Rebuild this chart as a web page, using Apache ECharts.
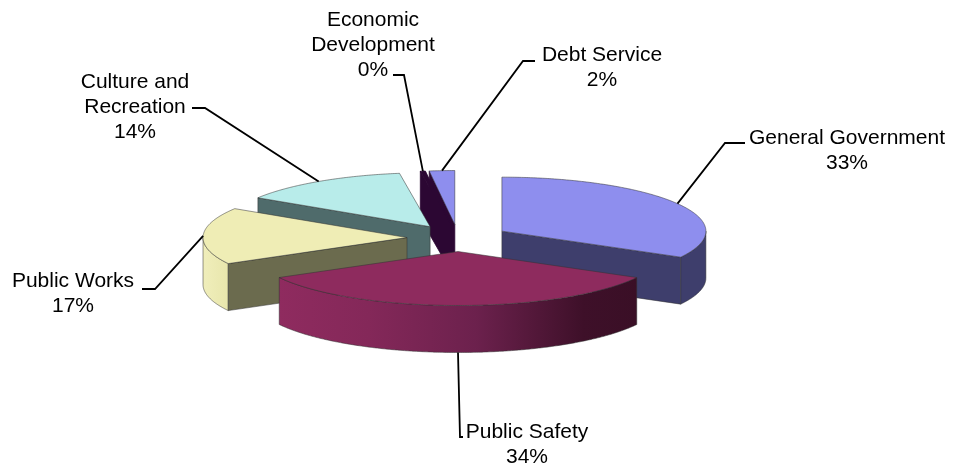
<!DOCTYPE html>
<html>
<head>
<meta charset="utf-8">
<style>html,body{margin:0;padding:0;background:#fff}#c{width:954px;height:464px}</style>
<script src="https://cdn.jsdelivr.net/npm/echarts@6/dist/echarts.min.js"></script>
</head>
<body>
<div id="c"></div>
<script>
// --- data ---
const categories = ['General Government', 'Public Safety', 'Public Works', 'Culture and\nRecreation', 'Economic\nDevelopment', 'Debt Service'];
const shares = [33, 34, 17, 13.6, 0.4, 2];

// --- styles ---
const topColors = ['#8e8eee', '#8e2b5e', '#efedb5', '#b8ecea', '#2c0733', '#8e8eee'];
const radialWallColors = ['#3e3e6c', '#3e0f28', '#6b6b4e', '#4f6b6b', '#2c0733', '#2c0733'];
const outerWallStops = [
  [[0, '#3e3e6c'], [1, '#3e3e6c']],
  [[0, '#8f2b5f'], [0.25, '#842859'], [0.55, '#6c214d'], [0.85, '#3e1029'], [1, '#3a0f26']],
  [[0, '#f0eebb'], [1, '#e8e6ac']],
  [[0, '#4f6b6b'], [1, '#4f6b6b']],
  [[0, '#2c0733'], [1, '#2c0733']],
  [[0, '#3e3e6c'], [1, '#3e3e6c']]
];

// --- layout of the pie ---
const cx0 = 458, cy0 = 238, rx = 204, ry = 54, depth = 47, explode = 51;
// label centre [x, first line y], leader elbow [x, y], and end of leader at label [x, y]
const labelPos = [[847, 136], [527, 430], [73, 279], [135, 80], [373, 18], [602, 53]];
const leaderElbow = [[725, 143], [460, 437], [155, 289], [205, 108], [404, 75], [523, 61]];
const leaderEnd = [[745, 143], [463, 437], [142, 289], [192, 108], [393, 75], [535, 61]];

const total = shares.reduce((a, b) => a + b, 0);
const toRad = d => d * Math.PI / 180;
let acc = 0;
const slices = shares.map(v => {
  const a0 = acc / total * 360;
  acc += v;
  const a1 = acc / total * 360;
  const mid = (a0 + a1) / 2;
  return {
    a0, a1, mid,
    cx: cx0 + explode * Math.sin(toRad(mid)),
    cy: cy0 - explode * (ry / rx) * Math.cos(toRad(mid))
  };
});
const order = slices.map((s, i) => [Math.cos(toRad(s.mid)), i]).sort((a, b) => b[0] - a[0]).map(d => d[1]);
const rim = (s, a, dy) => [s.cx + rx * Math.sin(toRad(a)), s.cy - ry * Math.cos(toRad(a)) + (dy || 0)];
const arc = (s, a0, a1, dy) => {
  const pts = [], n = Math.max(2, Math.ceil((a1 - a0) * 2));
  for (let k = 0; k <= n; k++) pts.push(rim(s, a0 + (a1 - a0) * k / n, dy));
  return pts;
};
const EDGE = 'rgba(50,50,50,0.65)';

function renderItem(params, api) {
  const i = params.dataIndex, s = slices[i], base = order.indexOf(i) * 10;
  const kids = [];
  const poly = (points, fill, z, stroke) => kids.push({
    type: 'polygon', shape: { points }, z2: base + z,
    style: { fill, stroke: stroke || EDGE, lineWidth: 0.8, lineJoin: 'round' }
  });
  // outer wall: only the part of the rim that faces the viewer
  const w0 = Math.max(s.a0, 90), w1 = Math.min(s.a1, 270);
  if (w1 > w0) {
    const pts = arc(s, w0, w1, 0).concat(arc(s, w0, w1, depth).reverse());
    poly(pts, new echarts.graphic.LinearGradient(0, 0, 1, 0,
      outerWallStops[i].map(d => ({ offset: d[0], color: d[1] }))), 1);
  }
  // radial walls
  const dark = radialWallColors[i] === topColors[4];
  const radial = a => {
    const p = rim(s, a, 0), q = rim(s, a, depth);
    poly([[s.cx, s.cy], p, q, [s.cx, s.cy + depth]], radialWallColors[i], 2, dark ? radialWallColors[i] : null);
  };
  if (Math.sin(toRad(s.a0)) < 0) radial(s.a0);
  if (Math.sin(toRad(s.a1)) > 1e-6) radial(s.a1);
  // top face
  poly([[s.cx, s.cy]].concat(arc(s, s.a0, s.a1, 0)), topColors[i], 3, i === 4 ? topColors[4] : null);
  // leader line and label
  const front = Math.cos(toRad(s.mid)) < -0.5;
  const anchor = rim(s, s.mid, front ? depth : 0);
  kids.push({
    type: 'polyline', z2: 500,
    shape: { points: [anchor, leaderElbow[i], leaderEnd[i]] },
    style: { fill: 'none', stroke: '#000', lineWidth: 1.8 }
  });
  kids.push({
    type: 'text', z2: 501, x: labelPos[i][0], y: labelPos[i][1] - 10,
    style: {
      text: categories[i] + '\n' + Math.round(api.value(0)) + '%',
      fill: '#000', font: '21px "Liberation Sans", Arial, sans-serif',
      align: 'center', verticalAlign: 'top', lineHeight: 25
    }
  });
  return { type: 'group', children: kids };
}

const chart = echarts.init(document.getElementById('c'), null, { renderer: 'canvas' });
chart.setOption({
  animation: false,
  backgroundColor: '#fff',
  series: [{
    type: 'custom',
    coordinateSystem: 'none',
    renderItem,
    data: shares.map((v, i) => ({ name: categories[i], value: [v] }))
  }]
});
</script>
</body>
</html>
